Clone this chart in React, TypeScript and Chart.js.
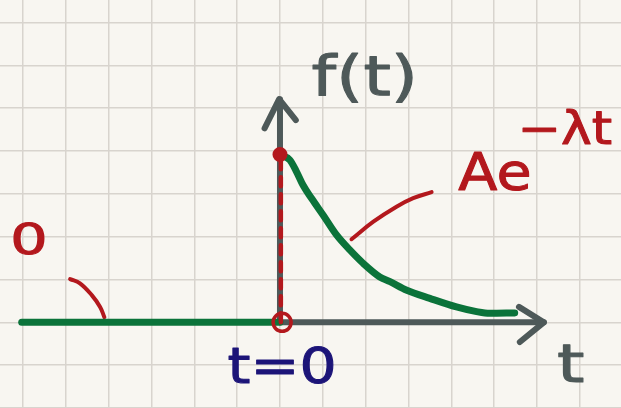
import React, { useEffect, useRef } from "react";
import { Chart, registerables } from "chart.js";

Chart.register(...registerables);

// Grid-cell coordinates: one unit per square of the paper grid.
const X_RANGE = [-6.537, 7.962];
const Y_RANGE = [-2.0, 7.526];

// f(t) = 0 for t < 0
const zeroPartX = [-6.03, 0];
const zeroPartY = [0, 0];

// f(t) = A e^{-λt} for t >= 0 (hand-traced samples)
const decayX = [0, 0.23, 0.39, 0.54, 0.74, 1.01, 1.32, 1.63, 1.94, 2.33, 2.57, 2.96, 3.5, 4.12, 4.59, 4.9, 5.48];
const decayY = [3.92, 3.79, 3.51, 3.2, 2.89, 2.5, 2.04, 1.69, 1.38, 1.06, 0.95, 0.75, 0.56, 0.36, 0.25, 0.21, 0.22];

// Axes and arrow heads
const tAxisX = [0, 6.16];
const tAxisY = [0, 0];
const fAxisX = [0, 0];
const fAxisY = [0, 5.21];
const tArrowX = [5.58, 6.16, 5.6];
const tArrowY = [0.36, 0.0, -0.46];
const fArrowX = [-0.36, -0.02, 0.37];
const fArrowY = [4.53, 5.21, 4.72];

// Jump at t = 0
const jumpX = [0.02, 0.02];
const jumpY = [0, 3.92];
const jumpTop = { x: 0, y: 3.92 };
const jumpBottom = { x: 0.05, y: 0 };

// Pointer strokes from labels to curve pieces
const pointerExpX = [1.67, 2.18, 2.72, 3.11, 3.54];
const pointerExpY = [1.94, 2.35, 2.7, 2.9, 3.04];
const pointerZeroX = [-4.9, -4.67, -4.39, -4.2, -4.1];
const pointerZeroY = [1.01, 0.91, 0.63, 0.36, 0.12];

// Text labels
const labelText = ["f(t)", "Ae", "\u2212\u03bbt", "t=0", "t", "0"];
const labelX = [1.98, 5.02, 6.65, 0.05, 6.79, -5.86];
const labelY = [5.65, 3.41, 4.45, -1.11, -1.07, 1.84];
const labelSize = [56, 52, 46, 50, 54, 42];
const labelStretch = [1.25, 1.1, 1.13, 1.17, 1.3, 1.4];
const labelColor = ["#4e5959", "#b3181d", "#b3181d", "#1c1478", "#4e5959", "#b3181d"];

const GREEN = "#0b733a";
const GRAY = "#4e5959";
const RED = "#b3181d";

const pts = (xs: number[], ys: number[]) => xs.map((x, i) => ({ x, y: ys[i] }));

const stroke = (data: { x: number; y: number }[], color: string, width: number, order: number, extra: any = {}) => ({
  data,
  showLine: true,
  borderColor: color,
  backgroundColor: color,
  borderWidth: width,
  borderCapStyle: "round",
  borderJoinStyle: "round",
  pointRadius: 0,
  pointHoverRadius: 0,
  fill: false,
  order,
  ...extra,
});

const paperPlugin = {
  id: "paper",
  beforeDraw(chart: any) {
    const { ctx, width, height } = chart;
    ctx.save();
    ctx.fillStyle = "#f8f6f1";
    ctx.fillRect(0, 0, width, height);
    ctx.restore();
  },
};

const labelPlugin = {
  id: "labels",
  afterDatasetsDraw(chart: any) {
    const { ctx, scales } = chart;
    labelText.forEach((txt, i) => {
      const px = scales.x.getPixelForValue(labelX[i]);
      const py = scales.y.getPixelForValue(labelY[i]);
      ctx.save();
      ctx.translate(px, py);
      ctx.scale(labelStretch[i], 1);
      ctx.textAlign = "center";
      ctx.textBaseline = "middle";
      ctx.lineJoin = "round";
      ctx.font = `${labelSize[i]}px "DejaVu Sans", sans-serif`;
      ctx.fillStyle = labelColor[i];
      ctx.strokeStyle = labelColor[i];
      ctx.lineWidth = 1;
      ctx.fillText(txt, 0, 0);
      ctx.strokeText(txt, 0, 0);
      ctx.restore();
    });
  },
};

const integerTicks = (scale: any) => {
  const ticks = [];
  for (let v = Math.ceil(scale.min); v <= Math.floor(scale.max); v++) ticks.push({ value: v });
  scale.ticks = ticks;
};

export default function App() {
  const ref = useRef<HTMLCanvasElement>(null);

  useEffect(() => {
    document.body.style.margin = "0";
    const canvas = ref.current;
    if (!canvas) return;
    const chart = new Chart(canvas, {
      type: "scatter",
      data: {
        datasets: [
          stroke([jumpBottom], RED, 3, 0, {
            showLine: false,
            pointRadius: 9,
            pointBorderWidth: 3.5,
            pointBackgroundColor: "rgba(0,0,0,0)",
            pointBorderColor: RED,
          }),
          stroke([jumpTop], RED, 3, 0, {
            showLine: false,
            pointRadius: 6,
            pointBackgroundColor: RED,
            pointBorderColor: RED,
          }),
          stroke(pts(jumpX, jumpY), RED, 4.5, 1, { borderDash: [9, 8] }),
          stroke(pts(decayX, decayY), GREEN, 7, 2, { tension: 0.4, cubicInterpolationMode: "monotone" }),
          stroke(pts(zeroPartX, zeroPartY), GREEN, 7, 2),
          stroke(pts(pointerExpX, pointerExpY), RED, 4, 3, { tension: 0.4 }),
          stroke(pts(pointerZeroX, pointerZeroY), RED, 4, 3, { tension: 0.4 }),
          stroke(pts(tAxisX, tAxisY), GRAY, 6, 4),
          stroke(pts(fAxisX, fAxisY), GRAY, 6, 4),
          stroke(pts(tArrowX, tArrowY), GRAY, 6, 4),
          stroke(pts(fArrowX, fArrowY), GRAY, 6, 4),
        ],
      },
      options: {
        animation: false,
        responsive: false,
        events: [],
        layout: { padding: 0, autoPadding: false },
        plugins: { legend: { display: false }, tooltip: { enabled: false } },
        scales: {
          x: {
            type: "linear",
            min: X_RANGE[0],
            max: X_RANGE[1],
            afterBuildTicks: integerTicks,
            ticks: { display: false },
            border: { display: false },
            grid: { color: "#d8d4ce", lineWidth: 1.5, drawTicks: false },
          },
          y: {
            type: "linear",
            min: Y_RANGE[0],
            max: Y_RANGE[1],
            afterBuildTicks: integerTicks,
            ticks: { display: false },
            border: { display: false },
            grid: { color: "#d8d4ce", lineWidth: 1.5, drawTicks: false },
          },
        },
      },
      plugins: [paperPlugin, labelPlugin],
    } as any);
    return () => chart.destroy();
  }, []);

  return <canvas ref={ref} width={621} height={408} style={{ display: "block" }} />;
}
